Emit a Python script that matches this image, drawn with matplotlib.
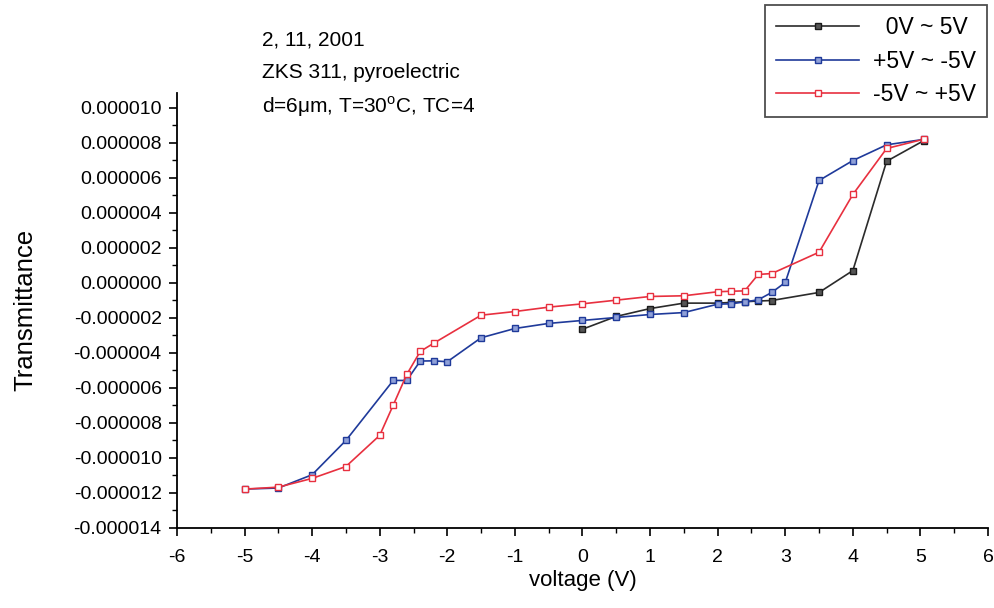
import matplotlib
matplotlib.use("Agg")
import matplotlib.pyplot as plt
from matplotlib.ticker import MultipleLocator, FuncFormatter

plt.rcParams['font.family'] = ['Liberation Sans', 'DejaVu Sans']

# Data (transmittance in units of 1e-6)
v_black = [0.0, 0.5, 1.0, 1.5, 2.0, 2.2, 2.4, 2.6, 2.8, 3.5, 4.0, 4.5, 5.05]
t_black = [-2.65, -1.92, -1.47, -1.16, -1.16, -1.12, -1.08, -1.04, -1.01, -0.55, 0.7, 6.95, 8.13]

v_blue = [5.05, 4.5, 4.0, 3.5, 3.0, 2.8, 2.6, 2.4, 2.2, 2.0, 1.5, 1.0, 0.5, 0.0,
          -0.5, -1.0, -1.5, -2.0, -2.2, -2.4, -2.6, -2.8, -3.5, -4.0, -4.5, -5.0]
t_blue = [8.2, 7.89, 6.99, 5.85, 0.02, -0.55, -0.97, -1.09, -1.2, -1.22, -1.7, -1.81, -1.98, -2.15,
          -2.32, -2.61, -3.14, -4.51, -4.46, -4.47, -5.58, -5.58, -9.01, -10.97, -11.73, -11.79]

v_red = [-5.0, -4.5, -4.0, -3.5, -3.0, -2.8, -2.6, -2.4, -2.2, -1.5, -1.0, -0.5,
         0.0, 0.5, 1.0, 1.5, 2.0, 2.2, 2.4, 2.6, 2.8, 3.5, 4.0, 4.5, 5.05]
t_red = [-11.79, -11.68, -11.18, -10.5, -8.72, -6.99, -5.24, -3.92, -3.45, -1.85, -1.64, -1.39,
         -1.2, -0.99, -0.78, -0.74, -0.51, -0.48, -0.46, 0.48, 0.53, 1.75, 5.05, 7.68, 8.21]

labels = ["  0V ~ 5V", "+5V ~ -5V", "-5V ~ +5V"]
scale = 1e-6

fig = plt.figure(figsize=(9.94, 6.08), dpi=100)
ax = fig.add_axes([0.178, 0.132, 0.816, 0.715])

ax.plot(v_black, [t * scale for t in t_black], color='#2b2b2b', lw=1.2, marker='s', ms=4.8,
        mfc='#555555', mec='#1a1a1a', mew=1.0, label=labels[0])
ax.plot(v_blue, [t * scale for t in t_blue], color='#1f3a9a', lw=1.2, marker='s', ms=4.8,
        mfc='#8fa0d8', mec='#1f3a9a', mew=1.0, label=labels[1])
ax.plot(v_red, [t * scale for t in t_red], color='#e8303f', lw=1.2, marker='s', ms=4.8,
        mfc='white', mec='#e8303f', mew=1.0, label=labels[2])

ax.set_xlim(-6, 6)
ax.set_ylim(-14e-6, 10.85e-6)
ax.xaxis.set_major_locator(MultipleLocator(1))
ax.xaxis.set_minor_locator(MultipleLocator(0.5))
ax.yaxis.set_major_locator(MultipleLocator(2e-6))
ax.yaxis.set_minor_locator(MultipleLocator(1e-6))
ax.yaxis.set_major_formatter(FuncFormatter(lambda y, p: ("%.6f" % y).replace("-0.000000", "0.000000")))
ax.xaxis.set_major_formatter(FuncFormatter(lambda x, p: "%d" % round(x)))

for s in ['top', 'right']:
    ax.spines[s].set_visible(False)
for s in ['left', 'bottom']:
    ax.spines[s].set_linewidth(1.3)
ax.tick_params(axis='both', which='major', direction='out', length=6, width=1.2, labelsize=14)
ax.tick_params(axis='both', which='minor', direction='out', length=3.5, width=1.0)
ax.tick_params(axis='x', pad=9)
ax.tick_params(axis='y', pad=5)

ax.set_xlabel("voltage (V)", fontsize=16, labelpad=3)
ax.set_ylabel("Transmittance", fontsize=18.5, labelpad=26)

leg = fig.legend(loc='upper right', bbox_to_anchor=(0.993, 0.992), fontsize=16.5,
                 frameon=True, fancybox=False, edgecolor='#222222', handlelength=3.6,
                 borderpad=0.5, labelspacing=0.45, handletextpad=0.6, borderaxespad=0.0)
leg.get_frame().set_linewidth(1.3)

fig.text(262 / 994, 1 - 40 / 608, "2, 11, 2001", fontsize=15, va='center', ha='left')
fig.text(262 / 994, 1 - 72 / 608, "ZKS 311, pyroelectric", fontsize=15, va='center', ha='left')
fig.text(262 / 994, 1 - 107 / 608, r"d=6$\mathregular{\mu}$m, T=30$^{\mathregular{o}}$C, TC=4",
         fontsize=15, va='center', ha='left')

fig.savefig("out.png", dpi=100)
